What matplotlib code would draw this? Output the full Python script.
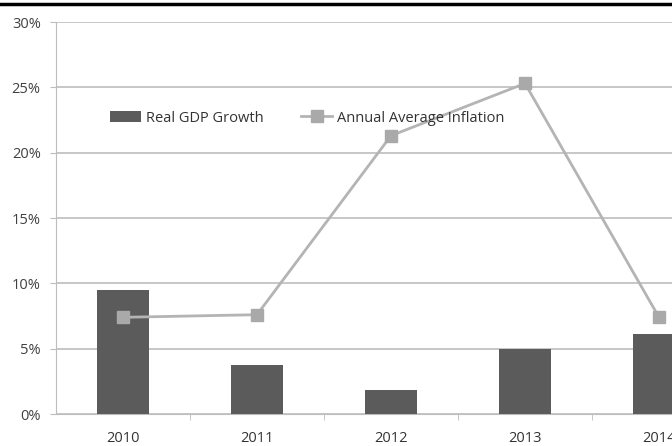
import matplotlib.pyplot as plt
from matplotlib.lines import Line2D
import numpy as np

years = ['2010', '2011', '2012', '2013', '2014']
gdp_growth = [9.5, 3.75, 1.85, 5.0, 6.1]
inflation = [7.4, 7.6, 21.3, 25.3, 7.4]

plt.rcParams['font.family'] = ['Open Sans', 'DejaVu Sans']

fig = plt.figure(figsize=(6.72, 4.46), dpi=100)
ax = fig.add_axes([56 / 672, 1 - 414 / 446, 1 - 56 / 672, (414 - 22) / 446])

x = np.arange(len(years))
bars = ax.bar(x, gdp_growth, width=0.39, color='#5b5b5b', label='Real GDP Growth', zorder=3)
line, = ax.plot(x, inflation, color='#b4b4b4', linewidth=2, marker='s', markersize=8.5,
                markerfacecolor='#a9a9a9', markeredgecolor='#a9a9a9',
                label='Annual Average Inflation', zorder=4)

ax.set_yticks(range(0, 31, 5))
ax.set_yticklabels([f'{v}%' for v in range(0, 31, 5)])
ax.yaxis.grid(True, color='#bdbdbd', linewidth=1.2, zorder=0)

ax.set_xticks(x)
ax.set_xticklabels(years)
# category boundary ticks
ax.set_xticks(np.arange(len(years)) + 0.5, minor=True)
ax.set_ylim(0, 30)
ax.set_xlim(-0.5, (672 - 56) / 134 - 0.5)
ax.tick_params(axis='x', which='major', length=0, pad=12, labelsize=10.5, labelcolor='#333333')
ax.tick_params(axis='x', which='minor', length=4, color='#bdbdbd')
ax.tick_params(axis='y', length=4, color='#bdbdbd', labelsize=10.5, labelcolor='#404040', pad=7)

for side in ['top', 'right']:
    ax.spines[side].set_visible(False)
ax.spines['left'].set_color('#bdbdbd')
ax.spines['bottom'].set_color('#bdbdbd')

leg = ax.legend([bars, line], ['Real GDP Growth', 'Annual Average Inflation'],
                loc='center left', bbox_to_anchor=(54 / 616, (414 - 118) / 392), ncol=2,
                frameon=False, fontsize=10.5, handlelength=2.1, columnspacing=2.6,
                handletextpad=0.35, borderpad=0, borderaxespad=0)
for t in leg.get_texts():
    t.set_color('#333333')

# black rule along the top edge
fig.add_artist(Line2D([0, 1], [1 - 3.5 / 446, 1 - 3.5 / 446], color='black', linewidth=2.5,
                      transform=fig.transFigure))

fig.savefig('out.png', dpi=100)
